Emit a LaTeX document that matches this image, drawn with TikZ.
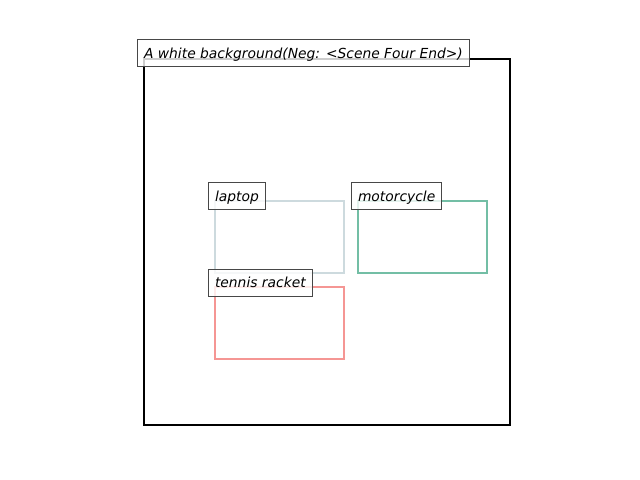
\documentclass[tikz,border=0pt]{standalone}
\usepackage{fontspec}
\setmainfont{DejaVu Sans}
\begin{document}
\begin{tikzpicture}[x=1bp,y=-1bp,
  tag/.style={draw=black!72, line width=1bp, fill=white, fill opacity=0.8, text opacity=1,
    anchor=west, inner xsep=6.5bp, inner ysep=6.5bp, text height=12bp, text depth=2bp,
    font=\fontsize{13.9}{16}\selectfont\itshape},
  region/.style={line width=2bp}]
  \definecolor{lapc}{RGB}{205,218,222}
  \definecolor{motc}{RGB}{115,190,165}
  \definecolor{racc}{RGB}{245,150,148}
  % canvas
  \fill[white] (0,0) rectangle (640,480);
  \useasboundingbox (0,0) rectangle (640,480);
  % scene frame
  \draw[line width=2bp] (144,59) rectangle (510,425);
  % object regions
  \draw[region, lapc] (215,201) rectangle (344,273);
  \draw[region, motc] (358,201) rectangle (487,273);
  \draw[region, racc] (215,287) rectangle (344,359);
  % captions
  \node[tag] (title) at (137,53.5) {A white background(Neg: <Scene Four End>)};
  \node[tag] (laptop) at (208,196.5) {laptop};
  \node[tag] (motorcycle) at (351,196.5) {motorcycle};
  \node[tag] (racket) at (208,282.5) {tennis racket};
\end{tikzpicture}
\end{document}
